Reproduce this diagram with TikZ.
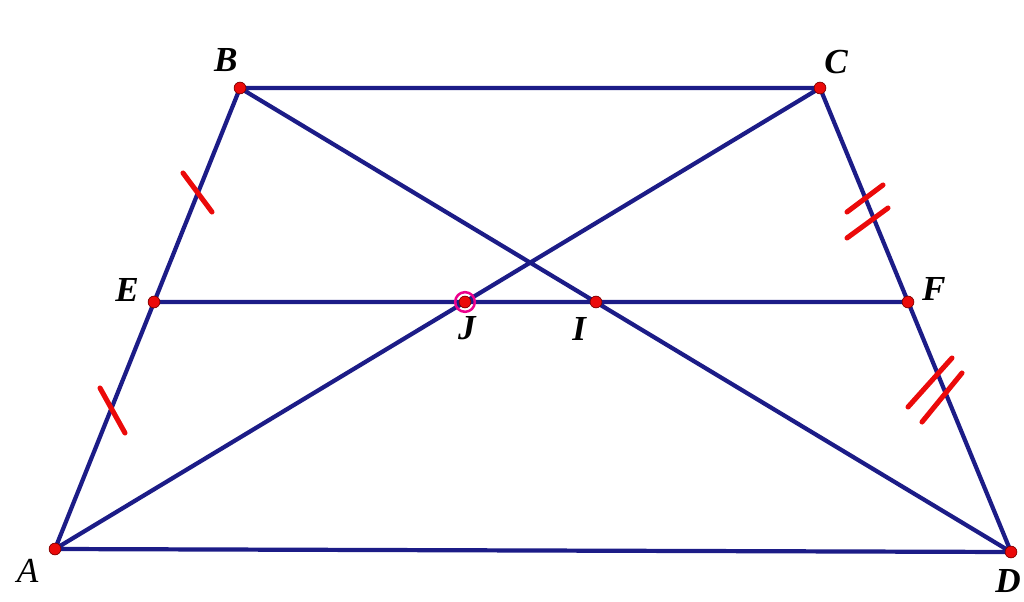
\documentclass[tikz,border=0pt]{standalone}
\usepackage{fontspec}
\setmainfont{Liberation Serif}
\definecolor{navy}{RGB}{28,28,135}
\definecolor{ptred}{RGB}{235,10,10}
\begin{document}
\begin{tikzpicture}[x=0.025cm,y=-0.025cm,line join=round,
every node/.style={font=\fontsize{25}{25}\selectfont\bfseries\itshape}]
\useasboundingbox (0,0) rectangle (1024,602);
\path
(55,549) coordinate (A)
(240,88) coordinate (B)
(820,88) coordinate (C)
(1011,552) coordinate (D)
(154,302) coordinate (E)
(908,302) coordinate (F)
(465,302) coordinate (J)
(596,302) coordinate (I);
\draw[navy,line width=3pt] (A)--(B)--(C)--(D)--cycle (A)--(C) (B)--(D) (E)--(F);
% dau bang nhau
\draw[ptred,line width=3.6pt,line cap=round] (183,173)--(212,212) (100,388)--(125,433)
(847,212)--(883,185) (847,238)--(888,208) (908,407)--(952,358) (922,422)--(962,373);
\draw[magenta,line width=1.8pt] (J) circle (7pt);
\foreach \t/\g/\r in {B/117/22,C/58/21.6,D/264/20.6,E/156/21,F/27/20.6,J/274/19,I/238/22.6}{\draw[fill=ptred,draw=red!50!black,line width=0.5pt] (\t) circle (4.2pt) node[shift={(\g:\r pt)}] (l\t) {\t};
}
\draw[fill=ptred,draw=red!50!black,line width=0.5pt] (A) circle (4.2pt) node[shift={(219:25pt)},font=\fontsize{25}{25}\selectfont\itshape] (lA) {A};
\end{tikzpicture}
\end{document}
